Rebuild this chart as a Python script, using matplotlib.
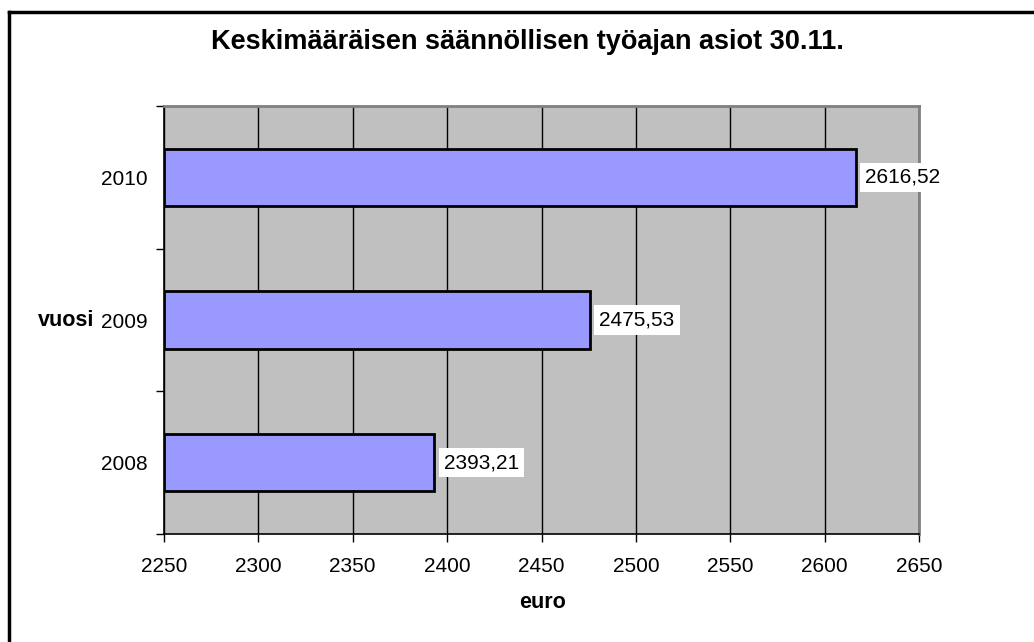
import matplotlib.pyplot as plt
from matplotlib.lines import Line2D

plt.rcParams['font.family'] = ['Liberation Sans', 'DejaVu Sans']

vuodet = ['2008', '2009', '2010']
arvot = [2393.21, 2475.53, 2616.52]
x_ticks = [2250, 2300, 2350, 2400, 2450, 2500, 2550, 2600, 2650]

fig = plt.figure(figsize=(10.34, 6.42), dpi=100)
ax = fig.add_axes([164 / 1034, 108 / 642, 755 / 1034, 428 / 642])
ax.set_facecolor('#C0C0C0')

y = list(range(len(vuodet)))
ax.barh(y, [a - x_ticks[0] for a in arvot], left=x_ticks[0], height=0.4,
        color='#9999FF', edgecolor='black', linewidth=2, zorder=3)

for i, a in enumerate(arvot):
    ax.text(a + 5, i, f'{a:.2f}'.replace('.', ','), va='center', ha='left',
            fontsize=15, zorder=4,
            bbox=dict(boxstyle='square,pad=0.25', facecolor='white', edgecolor='none'))

ax.set_xlim(x_ticks[0], x_ticks[-1])
ax.set_ylim(-0.5, len(vuodet) - 0.5)
ax.set_xticks(x_ticks)
ax.set_xticklabels([str(t) for t in x_ticks], fontsize=15)
ax.xaxis.grid(True, color='black', linewidth=1, zorder=1)
ax.set_axisbelow(True)

ax.set_yticks([-0.5, 0.5, 1.5, 2.5])
ax.set_yticklabels([])
ax.set_yticks(y, minor=True)
ax.set_yticklabels(vuodet, minor=True, fontsize=15)
ax.tick_params(axis='y', which='minor', length=0, pad=11.5)
ax.tick_params(axis='both', which='major', direction='out', length=6, width=1, color='black')
ax.tick_params(axis='x', pad=10.5)

for s in ['top', 'right']:
    ax.spines[s].set_color('#808080')
    ax.spines[s].set_linewidth(2)
for s in ['left', 'bottom']:
    ax.spines[s].set_color('black')
    ax.spines[s].set_linewidth(1.2)

fig.text(527 / 1034, 1 - 42 / 642, 'Keskimääräisen säännöllisen työajan asiot 30.11.',
         ha='center', va='center', fontsize=19.5, fontweight='bold')
fig.text(542 / 1034, 1 - 603 / 642, 'euro', ha='center', va='center',
         fontsize=15.5, fontweight='bold')
fig.text(94 / 1034, 1 - 320 / 642, 'vuosi', ha='right', va='center',
         fontsize=15.5, fontweight='bold')

# outer frame (left and top edges visible)
fig.add_artist(Line2D([9 / 1034, 9 / 1034], [0, 1 - 12 / 642], transform=fig.transFigure,
                      color='black', linewidth=2.5))
fig.add_artist(Line2D([9 / 1034, 1], [1 - 12 / 642, 1 - 12 / 642], transform=fig.transFigure,
                      color='black', linewidth=2.5))

fig.savefig('out.png', dpi=100)
